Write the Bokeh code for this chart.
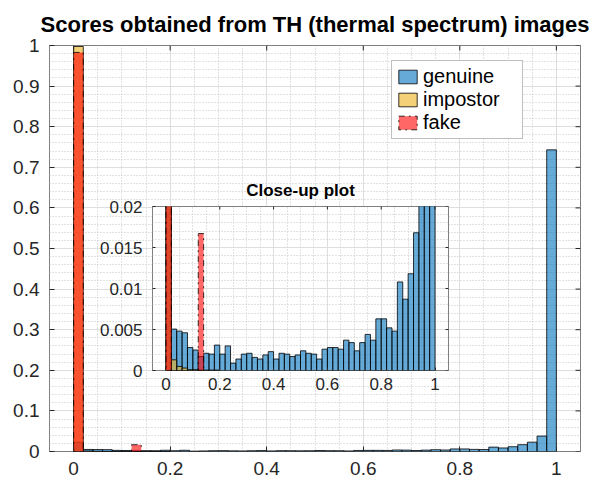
import math
from bokeh.plotting import figure
from bokeh.models import (Range1d, FixedTicker, ColumnDataSource, Legend, LegendItem, GridBox)
from bokeh.embed import file_html
from bokeh.resources import INLINE

# ---------------- data ----------------
bin_width = 0.02
bin_left = [round(i * bin_width, 2) for i in range(50)]

genuine = [0.023, 0.00505, 0.0048, 0.0046, 0.0028, 0.0025, 0.0017, 0.0021, 0.0020, 0.0031,
           0.0020, 0.0030, 0.0009, 0.0014, 0.0020, 0.0021, 0.0016, 0.0014, 0.0019, 0.0023,
           0.0014, 0.0021, 0.0020, 0.0017, 0.0019, 0.0024, 0.0021, 0.0020, 0.0014, 0.0026,
           0.0028, 0.0028, 0.0026, 0.0037, 0.0034, 0.0024, 0.0034, 0.0044, 0.0037, 0.0063,
           0.0063, 0.0052, 0.0048, 0.0108, 0.0087, 0.0118, 0.0168, 0.023, 0.038, 0.743]
impostor = [0.9975, 0.0013, 0.0005, 0.0003, 0.0001, 0.0001, 0.00005, 0.00005, 0.00005, 0.00005] + [0.0] * 40
fake = [0.983, 0, 0, 0, 0, 0, 0.0167] + [0.0] * 43

x_ticks = [0, 0.2, 0.4, 0.6, 0.8, 1]
x_tick_labels = ["0", "0.2", "0.4", "0.6", "0.8", "1"]
y_ticks = [0, 0.1, 0.2, 0.3, 0.4, 0.5, 0.6, 0.7, 0.8, 0.9, 1]
y_tick_labels = ["0", "0.1", "0.2", "0.3", "0.4", "0.5", "0.6", "0.7", "0.8", "0.9", "1"]
inset_y_ticks = [0, 0.005, 0.01, 0.015, 0.02]
inset_y_tick_labels = ["0", "0.005", "0.01", "0.015", "0.02"]

title_main = "Scores obtained from TH (thermal spectrum) images"
title_inset = "Close-up plot"
series_names = ["genuine", "impostor", "fake"]

# ---------------- style ----------------
FONT = "Liberation Sans"
TXT = "#262626"
C_GEN = "#0072BD"
C_IMP = "#EDB120"
C_FAKE = "#FF0000"
MAJ_GRID = "#dedede"
MIN_GRID = "#c4c4c4"
FRAME = "#808080"


def src(vals):
    l = [x for x, v in zip(bin_left, vals) if v > 0]
    t = [v for v in vals if v > 0]
    return ColumnDataSource(dict(left=l, right=[x + bin_width for x in l], top=t, bottom=[0] * len(t)))


def style(p, xt, xl, xminor, yt, yl, yminor, lab_size, tick_in, x_standoff):
    p.xaxis.ticker = FixedTicker(ticks=xt, minor_ticks=xminor)
    p.yaxis.ticker = FixedTicker(ticks=yt, minor_ticks=yminor)
    p.xaxis.major_label_overrides = {t: s for t, s in zip(xt, xl)}
    p.yaxis.major_label_overrides = {t: s for t, s in zip(yt, yl)}
    for ax in (p.xaxis[0], p.yaxis[0]):
        ax.axis_line_color = None
        ax.major_tick_in = tick_in
        ax.major_tick_out = 0
        ax.minor_tick_line_color = None
        ax.major_tick_line_color = TXT
        ax.major_label_text_font = FONT
        ax.major_label_text_font_size = lab_size
        ax.major_label_text_color = TXT
        ax.major_label_standoff = 6
    p.xaxis[0].major_label_standoff = x_standoff
    for g in (p.xgrid[0], p.ygrid[0]):
        g.grid_line_color = MAJ_GRID
        g.minor_grid_line_color = MIN_GRID
        g.minor_grid_line_dash = "1 2"
    p.outline_line_color = FRAME
    p.outline_line_width = 1
    # mirrored ticks on top and right edges (box on); half of each dash is clipped by the frame
    p.scatter(x=[p.x_range.end] * len(yt), y=yt, marker="dash", size=2 * tick_in,
              line_color=TXT, line_width=1)
    p.scatter(x=xt, y=[p.y_range.end] * len(xt), marker="dash", size=2 * tick_in,
              angle=math.pi / 2, line_color=TXT, line_width=1)


def bars(p):
    r1 = p.quad(left="left", right="right", top="top", bottom="bottom", source=src(genuine),
                fill_color=C_GEN, fill_alpha=0.6, line_color="black", line_width=0.8)
    r2 = p.quad(left="left", right="right", top="top", bottom="bottom", source=src(impostor),
                fill_color=C_IMP, fill_alpha=0.6, line_color="black", line_width=0.8)
    r3 = p.quad(left="left", right="right", top="top", bottom="bottom", source=src(fake),
                fill_color=C_FAKE, fill_alpha=0.6, line_color="black", line_width=0.8,
                line_dash="dashdot")
    return r1, r2, r3


x_minor = [round(i * 0.05, 2) for i in range(-1, 22)]

# ---------------- main figure ----------------
p = figure(width=590, height=480, x_range=Range1d(-0.05, 1.05), y_range=Range1d(0, 1),
           output_backend="svg", toolbar_location=None,
           min_border_left=41, min_border_right=18, min_border_top=43, min_border_bottom=29)
p.title.text = title_main
p.title.align = "center"
p.title.text_font = FONT
p.title.text_font_size = "22px"
p.title.text_font_style = "bold"
p.title.text_color = "black"
p.title.standoff = 18
r1, r2, r3 = bars(p)
style(p, x_ticks, x_tick_labels, x_minor, y_ticks, y_tick_labels,
      [round(i * 0.02, 2) for i in range(51)], "19px", 5, 6)

legend = Legend(items=[LegendItem(label=n, renderers=[r]) for n, r in zip(series_names, (r1, r2, r3))],
                location=(342, 312), orientation="vertical",
                label_text_font=FONT, label_text_font_size="20px", label_text_color="black",
                glyph_width=23, glyph_height=17, label_height=21, label_width=95, label_standoff=4,
                spacing=0, padding=4, margin=0,
                border_line_color=FRAME, border_line_width=1,
                background_fill_color="white", background_fill_alpha=1)
p.add_layout(legend)

# ---------------- inset figure ----------------
q = figure(width=360, height=228, x_range=Range1d(-0.05, 1.05), y_range=Range1d(0, 0.02),
           output_backend="svg", toolbar_location=None,
           min_border_left=57, min_border_right=7, min_border_top=33, min_border_bottom=30)
q.border_fill_color = None
q.background_fill_color = "white"
q.title.text = title_inset
q.title.align = "center"
q.title.text_font = FONT
q.title.text_font_size = "17px"
q.title.text_font_style = "bold"
q.title.text_color = "black"
q.title.standoff = 13
bars(q)
style(q, x_ticks, x_tick_labels, x_minor, inset_y_ticks, inset_y_tick_labels,
      [round(i * 0.001, 3) for i in range(21)], "17px", 3, 3)

layout = GridBox(children=[(p, 0, 1, 3, 3), (q, 1, 2, 1, 1)],
                 rows=["172px", "228px", "80px"], cols=["8px", "87px", "360px", "143px"],
                 spacing=0)

open("out.html", "w").write(file_html(layout, INLINE))
